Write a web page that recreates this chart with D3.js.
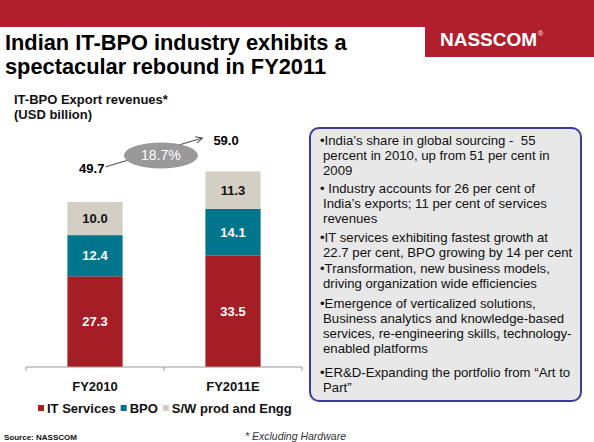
<!DOCTYPE html>
<html>
<head>
<meta charset="utf-8">
<script src="https://cdn.jsdelivr.net/npm/d3@7"></script>
<style>
  body { margin: 0; background: #fff; }
  svg { display: block; font-family: "Liberation Sans", Arial, sans-serif; }
</style>
</head>
<body>
<svg id="chart" width="594" height="442"></svg>
<script>
// chart data
const categories = ["FY2010", "FY2011E"];
const itServices = [27.3, 33.5];
const bpo = [12.4, 14.1];
const swProd = [10.0, 11.3];
const totals = [49.7, 59.0];
const growthLabel = "18.7%";
const seriesNames = ["IT Services", "BPO", "S/W prod and Engg"];
const seriesKeys = ["it", "bpo", "sw"];

// text box lines (bullet lines start with •)
const boxLines = [
  "•India\u2019s share in global sourcing -  55",
  "percent in 2010, up from 51 per cent in",
  "2009",
  "• Industry accounts for 26 per cent of",
  "India\u2019s exports; 11 per cent of services",
  "revenues",
  "•IT services exhibiting fastest growth at",
  "22.7 per cent, BPO growing by 14 per cent",
  "•Transformation, new business models,",
  "driving organization wide efficiencies",
  "•Emergence of verticalized solutions,",
  "Business analytics and knowledge-based",
  "services, re-engineering skills, technology-",
  "enabled platforms",
  "•ER&D-Expanding the portfolio from \u201cArt to",
  "Part\u201d"
];
const boxLineGaps = [0, 0, 0, 3, 0, 0, 4, 0, 1, 0, 5, 0, 0, 0, 9, 0];

const colors = { it: "#A51E25", bpo: "#00758C", sw: "#D4CFC4" };
const labelColors = { it: "#fff", bpo: "#fff", sw: "#111" };

const svg = d3.select("#chart");

// header band and logo box
svg.append("rect").attr("x", 0).attr("y", 0).attr("width", 594).attr("height", 27).attr("fill", "#B01F2B");
svg.append("rect").attr("x", 425).attr("y", 0).attr("width", 169).attr("height", 57).attr("fill", "#B01F2B");
svg.append("text").attr("x", 440).attr("y", 46)
  .attr("fill", "#fff").attr("font-size", 19).attr("font-weight", "bold")
  .text("NASSCOM");
svg.append("text").attr("x", 538).attr("y", 36)
  .attr("fill", "#fff").attr("font-size", 7).text("®");

// title
const title = svg.append("text").attr("font-size", 21.8).attr("font-weight", "bold").attr("fill", "#000");
title.append("tspan").attr("x", 5).attr("y", 50).text("Indian IT-BPO industry exhibits a");
title.append("tspan").attr("x", 5).attr("y", 74).text("spectacular rebound in FY2011");

const sub = svg.append("text").attr("font-size", 13).attr("font-weight", "bold").attr("fill", "#111");
sub.append("tspan").attr("x", 14).attr("y", 104).text("IT-BPO Export revenues*");
sub.append("tspan").attr("x", 14).attr("y", 119).text("(USD billion)");

// scales
const x = d3.scaleBand().domain(categories).range([26, 302]).paddingInner(0.6).paddingOuter(0.3);
const y = d3.scaleLinear().domain([0, 59]).range([367, 171]);

const table = categories.map((c, i) => ({ cat: c, it: itServices[i], bpo: bpo[i], sw: swProd[i] }));
const stacked = d3.stack().keys(seriesKeys)(table);

const layers = svg.selectAll(".layer").data(stacked).join("g")
  .attr("class", "layer")
  .attr("fill", d => colors[d.key]);

layers.selectAll("rect").data(d => d).join("rect")
  .attr("x", d => x(d.data.cat))
  .attr("y", d => y(d[1]))
  .attr("width", x.bandwidth())
  .attr("height", d => y(d[0]) - y(d[1]));

layers.each(function (layer) {
  d3.select(this).selectAll("text").data(layer).join("text")
    .attr("x", d => x(d.data.cat) + x.bandwidth() / 2)
    .attr("y", d => (y(d[0]) + y(d[1])) / 2 + 4.6)
    .attr("text-anchor", "middle")
    .attr("font-size", 13).attr("font-weight", "bold")
    .attr("fill", labelColors[layer.key])
    .text(d => d3.format(".1f")(d[1] - d[0]));
});

// x axis: line with ticks on band edges, labels in band centres
const axis = svg.append("g").attr("transform", "translate(0,367)");
axis.append("line").attr("x1", 26).attr("x2", 302).attr("stroke", "#999");
const edges = [26, 26 + x.step(), 26 + 2 * x.step()];
axis.selectAll(".edge").data(edges).join("line")
  .attr("class", "edge")
  .attr("x1", d => d).attr("x2", d => d).attr("y1", 0).attr("y2", 4)
  .attr("stroke", "#999");
axis.selectAll(".cat").data(categories).join("text")
  .attr("class", "cat")
  .attr("x", d => x(d) + x.bandwidth() / 2)
  .attr("y", 24)
  .attr("text-anchor", "middle")
  .attr("font-size", 13).attr("font-weight", "bold").attr("fill", "#111")
  .text(d => d);

// totals and growth arrow
svg.append("defs").append("marker")
  .attr("id", "arr").attr("viewBox", "0 0 10 10").attr("refX", 9).attr("refY", 5)
  .attr("markerWidth", 8).attr("markerHeight", 8).attr("orient", "auto")
  .append("path").attr("d", "M1,1 L9,5 L1,9").attr("fill", "none").attr("stroke", "#444").attr("stroke-width", 1.2);

svg.append("text")
  .attr("x", x(categories[0]) + 37).attr("y", y(totals[0]) - 29)
  .attr("text-anchor", "end").attr("font-size", 13).attr("font-weight", "bold")
  .text(d3.format(".1f")(totals[0]));
svg.append("text")
  .attr("x", x(categories[1]) + 8).attr("y", y(totals[1]) - 26)
  .attr("font-size", 13).attr("font-weight", "bold")
  .text(d3.format(".1f")(totals[1]));

const a0 = [x(categories[0]) + 38, y(totals[0]) - 35];
const a1 = [x(categories[1]) - 3, y(totals[1]) - 33];
svg.append("line")
  .attr("x1", a0[0]).attr("y1", a0[1]).attr("x2", a1[0]).attr("y2", a1[1])
  .attr("stroke", "#444").attr("stroke-width", 1).attr("marker-end", "url(#arr)");
const ex = (a0[0] + a1[0]) / 2 + 7, ey = (a0[1] + a1[1]) / 2 + 3;
svg.append("ellipse").attr("cx", ex).attr("cy", ey).attr("rx", 37).attr("ry", 13).attr("fill", "#999");
svg.append("text").attr("x", ex).attr("y", ey + 5).attr("text-anchor", "middle")
  .attr("font-size", 14).attr("fill", "#fff").text(growthLabel);

// legend
const legend = svg.append("g").attr("transform", "translate(38,413)");
let lx = 0;
seriesNames.forEach((name, i) => {
  const g = legend.append("g").attr("transform", `translate(${lx},0)`);
  g.append("rect").attr("x", 0).attr("y", -8).attr("width", 6).attr("height", 6).attr("fill", colors[seriesKeys[i]]);
  const t = g.append("text").attr("x", 9).attr("y", 0)
    .attr("font-size", 13).attr("font-weight", "bold").attr("fill", "#111").text(name);
  lx += 9 + t.node().getComputedTextLength() + 5;
});

// text box
svg.append("rect").attr("x", 310).attr("y", 128).attr("width", 271).attr("height", 273)
  .attr("rx", 9).attr("fill", "#E8E8E8").attr("stroke", "#3B3B9C").attr("stroke-width", 2);
let by = 145;
const boxText = svg.append("text").attr("font-size", 13.2).attr("fill", "#111")
  .style("white-space", "pre");
boxLines.forEach((line, i) => {
  by += boxLineGaps[i];
  boxText.append("tspan")
    .attr("x", line.startsWith("•") ? 320 : 323)
    .attr("y", by)
    .text(line);
  by += 15;
});

// footer
svg.append("text").attr("x", 4).attr("y", 440).attr("font-size", 8).attr("font-weight", "bold")
  .attr("fill", "#111").text("Source: NASSCOM");
svg.append("text").attr("x", 245).attr("y", 440).attr("font-size", 10.5).attr("font-style", "italic")
  .attr("fill", "#333").text("* Excluding Hardware");
</script>
</body>
</html>
